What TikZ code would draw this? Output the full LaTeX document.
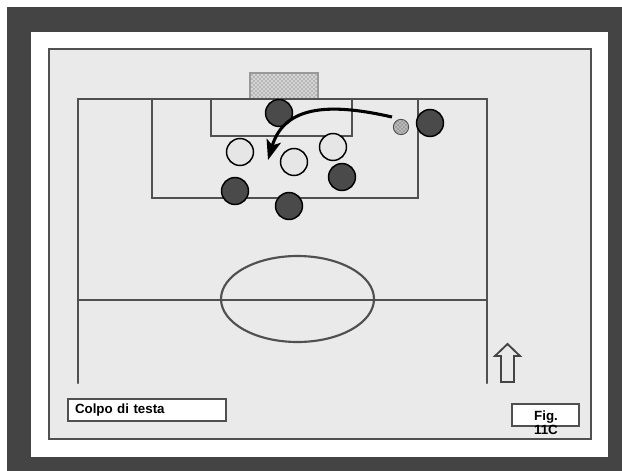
\documentclass[tikz,border=0pt]{standalone}
\usepackage{fontspec}
\setmainfont{Liberation Sans}
\usepackage{tkz-euclide}
\usetikzlibrary{arrows.meta,patterns}
\definecolor{FrameClr}{HTML}{444444}
\definecolor{PitchClr}{HTML}{EAEAEA}
\definecolor{LineClr}{HTML}{505050}
\definecolor{DarkClr}{HTML}{4A4A4A}
\definecolor{LightClr}{HTML}{E6E6E6}
\definecolor{GoalClr}{HTML}{D4D4D4}

\tikzset{
  field/.style={line width=1.6pt,color=LineClr,line cap=square},
  dark/.style={circle,draw=black,line width=1.1pt,fill=DarkClr,minimum size=20.2pt,inner sep=0pt},
  light/.style={dark,fill=LightClr},
  ball/.style={circle,draw=gray!60!black,line width=.6pt,minimum size=11.5pt,inner sep=0pt,
    preaction={fill=gray!55},pattern=crosshatch dots,pattern color=black!75},
  header/.style={line width=2.3pt,-{Stealth[length=15pt,width=11pt,inset=3.5pt]}},
  namebox/.style={draw=LineClr,line width=1.1pt,fill=white,minimum height=16.5pt,
    inner xsep=5.25pt,text width=108pt,align=left,font=\bfseries\fontsize{10}{9}\selectfont},
  tagbox/.style={draw=LineClr,line width=1.1pt,fill=white,minimum width=50.25pt,minimum height=16.5pt},
  tagtext/.style={inner sep=0pt,align=center,font=\bfseries\fontsize{10}{9}\selectfont}
}

\begin{document}
\begin{tikzpicture}[x=.75pt,y=-.75pt]
\useasboundingbox (0,0) rectangle (622,471);
\tkzSetUpLine[line width=1.6pt,color=LineClr]

% frame and pitch
\fill[FrameClr] (7,7) rectangle (622,471);
\fill[white] (31,32) rectangle (608,457);
\draw[fill=PitchClr,draw=LineClr,line width=1.5pt] (49,49) rectangle (591,439);

\tkzDefPoints{78/383/A,78/99/B,487/99/C,487/383/D,78/300/H,487/300/K}
\tkzDefPoints{152/99/P1,152/198/P2,418/198/P3,418/99/P4}
\tkzDefPoints{211/99/G1,211/136/G2,352/136/G3,352/99/G4}
\tkzDefPoint(297.5,299){M}

\draw[draw=gray!80,line width=1pt,preaction={fill=GoalClr},
  pattern=crosshatch dots,pattern color=gray!70!black] (250,73) rectangle (318,99);

\tkzDrawSegments[field](A,B B,C C,D H,K P1,P2 P2,P3 P3,P4 G1,G2 G2,G3 G3,G4)
\draw[field] (M) ellipse [x radius=76.5,y radius=43];

% players
\node[dark] (d1) at (279,113) {};
\node[dark] (d2) at (430,123) {};
\node[dark] (d3) at (342,177) {};
\node[dark] (d4) at (235,191) {};
\node[dark] (d5) at (289,206) {};
\node[light] (l1) at (240,152) {};
\node[light] (l2) at (294,162) {};
\node[light] (l3) at (333,147) {};
\node[ball] (ball) at (401,127) {};

\coordinate (kick) at (392,117);
\coordinate (aim) at (268,160);
\draw[header] (kick) .. controls (335,104) and (285,103) .. (aim);

% direction of play
\draw[line width=1.4pt,color=FrameClr] (501,382) -- (514,382) -- (514,356) -- (520,356)
  -- (507.5,344) -- (495,356) -- (501,356) -- cycle;

\node[namebox] (title) at (147,410) {Colpo di testa};
\node[tagbox] (fig) at (545.5,415) {};
\node[tagtext,anchor=north] (figtxt) at (546,411) {Fig.\\11C};

\end{tikzpicture}
\end{document}
